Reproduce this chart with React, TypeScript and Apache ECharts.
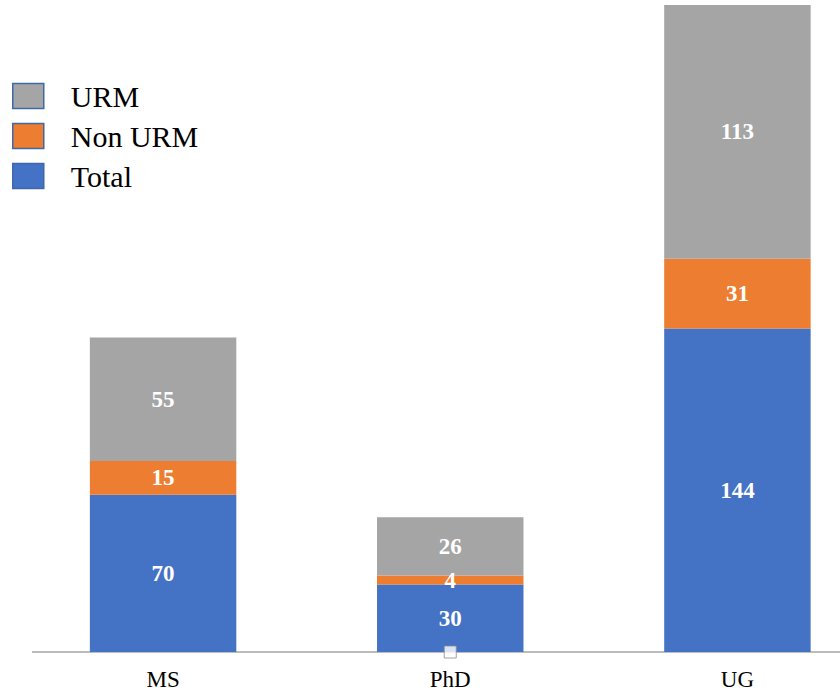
import React, { useEffect, useRef } from "react";
import * as echarts from "echarts";

const categories = ["MS", "PhD", "UG"];
const totalValues = [70, 30, 144];
const nonUrmValues = [15, 4, 31];
const urmValues = [55, 26, 113];
const legendNames = ["URM", "Non URM", "Total"];

export default function App() {
  const ref = useRef<HTMLDivElement>(null);
  useEffect(() => {
    if (!ref.current) return;
    const chart = echarts.init(ref.current, null, { renderer: "svg" });
    const labelStyle = {
      show: true,
      position: "inside",
      color: "#ffffff",
      fontFamily: "Liberation Serif, Times New Roman, serif",
      fontWeight: "bold",
      fontSize: 23,
    };
    const barCommon = {
      type: "bar",
      stack: "all",
      barCategoryGap: "49%",
      label: labelStyle,
    };
    chart.setOption({
      animation: false,
      backgroundColor: "#ffffff",
      grid: { left: 19.5, top: 5, right: 0, bottom: 40, containLabel: false },
      legend: {
        data: legendNames,
        orient: "vertical",
        left: 12,
        top: 81,
        padding: 0,
        icon: "rect",
        itemWidth: 31,
        itemHeight: 25,
        itemGap: 10,
        selectedMode: false,
        itemStyle: { borderColor: "#3E68A8", borderWidth: 1.5 },
        textStyle: {
          fontFamily: "Liberation Serif, Times New Roman, serif",
          fontSize: 30,
          color: "#000000",
          padding: [0, 0, 0, 22],
        },
      },
      xAxis: {
        type: "category",
        data: categories,
        axisLine: { show: false },
        axisTick: { show: false },
        axisLabel: {
          margin: 16,
          color: "#000000",
          fontFamily: "Liberation Serif, Times New Roman, serif",
          fontSize: 23,
        },
      },
      yAxis: {
        type: "value",
        min: 0,
        max: 288,
        show: false,
        splitLine: { show: false },
      },
      graphic: [
        {
          type: "line",
          shape: { x1: 32, y1: 652, x2: 881, y2: 652 },
          style: { stroke: "#A6A6A6", lineWidth: 1.5 },
          z: 1,
        },
      ],
      series: [
        { ...barCommon, name: "Total", data: totalValues, itemStyle: { color: "#4472C4" }, z: 3 },
        { ...barCommon, name: "Non URM", data: nonUrmValues, itemStyle: { color: "#ED7D31" }, z: 3 },
        { ...barCommon, name: "URM", data: urmValues, itemStyle: { color: "#A5A5A5" }, z: 3 },
        {
          type: "scatter",
          name: "marker",
          data: [[categories[1], 0]],
          symbol: "rect",
          symbolSize: 12,
          itemStyle: { color: "#ffffff", borderColor: "#8C8C8C", borderWidth: 1 },
          z: 10,
          silent: true,
        },
      ],
    });
    return () => chart.dispose();
  }, []);
  return (
    <div style={{ width: 840, height: 692, position: "absolute", left: 0, top: 0, overflow: "hidden" }}>
      <div ref={ref} style={{ width: 881, height: 692 }} />
    </div>
  );
}
